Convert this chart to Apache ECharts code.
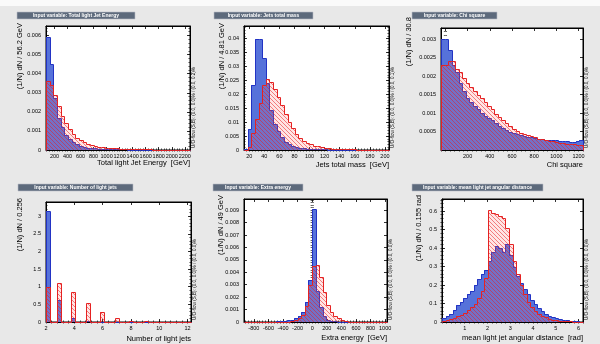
<!DOCTYPE html>
<html>
<head>
<meta charset="utf-8">
<script src="https://cdn.jsdelivr.net/npm/echarts@6/dist/echarts.min.js"></script>
<style>
  html, body { margin: 0; padding: 0; background: #e8e8e8; }
  #main { width: 600px; height: 344px; }
</style>
</head>
<body>
<div id="main"></div>
<script>
// ---- data: [first bin edge, bin width], signal / background per bin ----
const energyBins = [70, 56.2];
const energySig = [0.0059, 0.0045, 0.0027, 0.0017, 0.0012, 0.0008, 0.0006, 0.00042, 0.0003, 0.00022,
  0.00017, 0.00013, 0.0001, 0.00008, 0.00007, 0.00006, 0.00005, 0.00004, 0.00004, 0.00003,
  0.00003, 0.00003, 0.00002, 0.00002, 0.00002, 0.00002, 0.00001, 0.00001, 0.00001, 0.00001,
  0.00001, 0.00001, 0.00001, 0, 0, 0, 0, 0, 0, 0];
const energyBkg = [0.0036, 0.0034, 0.0029, 0.0023, 0.0018, 0.0014, 0.0011, 0.00085, 0.00065, 0.0005,
  0.0004, 0.00032, 0.00026, 0.00021, 0.00017, 0.00014, 0.00012, 0.0001, 0.00009, 0.00008,
  0.00007, 0.00006, 0.00005, 0.00005, 0.00004, 0.00004, 0.00003, 0.00003, 0.00003, 0.00002,
  0.00002, 0.00002, 0.00002, 0.00001, 0.00001, 0.00001, 0.00001, 0.00001, 0.00001, 0.00001];

const massBins = [13, 4.81];
const massSig = [0.0005, 0.0076, 0.0232, 0.0398, 0.0400, 0.0330, 0.0240, 0.0145, 0.0095, 0.0068,
  0.0045, 0.0030, 0.0020, 0.0015, 0.0010, 0.0008, 0.0006, 0.0005, 0.0004, 0.0003,
  0.0003, 0.0002, 0.0002, 0.0001, 0.0001, 0.0001, 0.0001, 0.0001, 0, 0,
  0, 0, 0, 0, 0, 0, 0, 0, 0, 0];
const massBkg = [0, 0.0010, 0.0060, 0.0110, 0.0170, 0.0235, 0.0254, 0.0245, 0.0220, 0.0190,
  0.0160, 0.0130, 0.0100, 0.0078, 0.0058, 0.0044, 0.0034, 0.0026, 0.0020, 0.0016,
  0.0013, 0.0010, 0.0008, 0.0006, 0.0005, 0.0004, 0.0003, 0.0003, 0.0002, 0.0002,
  0.0002, 0.0001, 0.0001, 0.0001, 0.0001, 0.0001, 0, 0, 0, 0];

const chiBins = [-40, 32];
const chiSig = [0.0030, 0.0030, 0.0027, 0.0023, 0.0021, 0.0018, 0.0016, 0.0014, 0.0013, 0.0012,
  0.0011, 0.0010, 0.00093, 0.00086, 0.0008, 0.00072, 0.00066, 0.0006, 0.00055, 0.0005,
  0.00046, 0.00043, 0.0004, 0.00038, 0.00036, 0.00034, 0.00032, 0.0003, 0.00029, 0.00028,
  0.00027, 0.00026, 0.00026, 0.00025, 0.00024, 0.00023, 0.00022, 0.00021, 0.00024, 0.00027];
const chiBkg = [0.0023, 0.0023, 0.0024, 0.0024, 0.0022, 0.0021, 0.00195, 0.0018, 0.0017, 0.0016,
  0.0015, 0.0014, 0.0013, 0.0012, 0.0011, 0.00098, 0.00088, 0.0008, 0.00072, 0.00065,
  0.00058, 0.00052, 0.00047, 0.00043, 0.0004, 0.00037, 0.00034, 0.00031, 0.00029, 0.00027,
  0.00025, 0.00023, 0.00021, 0.0002, 0.00018, 0.00017, 0.00016, 0.00015, 0.00014, 0.00013];

const njetBins = [2, 0.256];
const njetSig = [3.15, 0, 0, 0.62, 0, 0, 0, 0.12, 0, 0,
  0, 0.03, 0, 0, 0, 0.01, 0, 0, 0, 0,
  0, 0, 0, 0, 0, 0, 0, 0, 0, 0,
  0, 0, 0, 0, 0, 0, 0, 0, 0, 0];
const njetBkg = [1.0, 0, 0, 1.1, 0, 0, 0, 0.85, 0, 0,
  0, 0.55, 0, 0, 0, 0.27, 0, 0, 0, 0.11,
  0, 0, 0, 0.04, 0, 0, 0, 0.015, 0, 0,
  0, 0.005, 0, 0, 0, 0, 0, 0, 0, 0];

const extraBins = [-935, 49];
const extraSig = [0, 0, 0, 0, 0, 0, 0, 0.00002, 0.00003, 0.00005,
  0.00007, 0.0001, 0.00015, 0.0002, 0.0003, 0.0005, 0.0008, 0.0016, 0.0034, 0.0091,
  0.0025, 0.0012, 0.0005, 0.0002, 0.0001, 0.00005, 0.00003, 0, 0, 0,
  0, 0, 0, 0, 0, 0, 0, 0, 0, 0];
const extraBkg = [0, 0, 0, 0, 0, 0, 0, 0, 0, 0,
  0, 0, 0.00003, 0.00008, 0.00015, 0.0003, 0.0006, 0.0013, 0.0030, 0.0045,
  0.0046, 0.0036, 0.0024, 0.0014, 0.0008, 0.0005, 0.0003, 0.00015, 0.00008, 0.00004,
  0.00002, 0, 0, 0, 0, 0, 0, 0, 0, 0];

const angleBins = [0, 0.155];
const angleSig = [0.02, 0.03, 0.045, 0.065, 0.09, 0.11, 0.13, 0.15, 0.17, 0.2,
  0.235, 0.26, 0.28, 0.33, 0.38, 0.41, 0.40, 0.38, 0.42, 0.36,
  0.30, 0.25, 0.21, 0.18, 0.15, 0.12, 0.095, 0.075, 0.06, 0.045,
  0.035, 0.027, 0.02, 0.016, 0.012, 0.01, 0.007, 0.005, 0.003, 0.002];
const angleBkg = [0.005, 0.01, 0.015, 0.02, 0.03, 0.04, 0.05, 0.065, 0.08, 0.1,
  0.13, 0.17, 0.24, 0.605, 0.59, 0.585, 0.575, 0.56, 0.51, 0.42,
  0.33, 0.26, 0.2, 0.15, 0.11, 0.08, 0.06, 0.045, 0.033, 0.025,
  0.018, 0.013, 0.01, 0.008, 0.006, 0.004, 0.003, 0.002, 0.001, 0.001];

// axis ranges: [min, max, major step]
const xRanges = [[70, 2280, 200], [13, 205.4, 20], [-40, 1240, 200], [2, 12.24, 2], [-935, 1025, 200], [0, 6.2, 1]];
const yRanges = [[0, 0.0065, 0.001], [0, 0.0445, 0.005], [0, 0.0033, 0.0005], [0, 3.4, 0.5], [0, 0.0099, 0.001], [0, 0.665, 0.1]];

const titles = ['Input variable: Total light Jet Energy', 'Input variable: Jets total mass', 'Input variable: Chi square',
  'Input variable: Number of light jets', 'Input variable: Extra energy', 'Input variable: mean light jet angular distance'];
const xTitles = ['Total light Jet Energy  [GeV]', 'Jets total mass  [GeV]', 'Chi square',
  'Number of light jets', 'Extra energy  [GeV]', 'mean light jet angular distance  [rad]'];
const yTitles = ['(1/N) dN / 56.2 GeV', '(1/N) dN / 4.81 GeV', '(1/N) dN / 30.8',
  '(1/N) dN / 0.256', '(1/N) dN / 49 GeV', '(1/N) dN / 0.155 rad'];
const flowTexts = ['U/O-flow (S,B): (0.0, 0.0)% / (0.0, 0.2)%', 'U/O-flow (S,B): (0.0, 0.0)% / (0.0, 0.1)%',
  'U/O-flow (S,B): (0.0, 0.0)% / (0.0, 0.0)%', 'U/O-flow (S,B): (0.0, 0.0)% / (0.0, 0.0)%',
  'U/O-flow (S,B): (0.0, 0.0)% / (0.0, 0.0)%', 'U/O-flow (S,B): (0.0, 0.0)% / (0.0, 0.0)%'];

// ---- layout ----
const font = '"Liberation Sans", Arial, Helvetica, sans-serif';
const frames = [
  { left: 46, top: 26, width: 144, height: 124, box: [17, 12, 118], yt: [20, 23], xt: 163, zeroX: true, zeroY: true },
  { left: 244, top: 26, width: 145, height: 124, box: [214, 12, 99], yt: [222, 23], xt: 165, zeroX: true, zeroY: true },
  { left: 441, top: 28, width: 142, height: 122, box: [412, 12, 85], yt: [409, 17], xt: 165, zeroX: false, zeroY: false },
  { left: 46, top: 202, width: 145, height: 120, box: [18, 184, 115], yt: [20, 198], xt: 339, zeroX: true, zeroY: true },
  { left: 244, top: 199, width: 143, height: 123, box: [213, 184, 90], yt: [221, 195], xt: 338, zeroX: true, zeroY: true },
  { left: 442, top: 199, width: 141, height: 123, box: [412, 184, 131], yt: [419, 195], xt: 338, zeroX: false, zeroY: true }
];
const sigs = [energySig, massSig, chiSig, njetSig, extraSig, angleSig];
const bkgs = [energyBkg, massBkg, chiBkg, njetBkg, extraBkg, angleBkg];
const bins = [energyBins, massBins, chiBins, njetBins, extraBins, angleBins];

// tick positions: multiples of step inside [min, max]
function tickValues(min, max, step) {
  const out = [];
  const k0 = Math.ceil(min / step - 1e-9), k1 = Math.floor(max / step + 1e-9);
  for (let k = k0; k <= k1; k++) out.push(+(k * step).toFixed(8));
  return out;
}

// red "\" hatch tile
function hatchTile() {
  const n = 4;
  const c = document.createElement('canvas');
  c.width = n; c.height = n;
  const g = c.getContext('2d');
  const img = g.createImageData(n, n);
  for (let y = 0; y < n; y++) {
    for (let x = 0; x < n; x++) {
      const k = (y * n + x) * 4;
      if ((x - y + n) % n === 0) {
        img.data[k] = 235; img.data[k + 1] = 40; img.data[k + 2] = 40; img.data[k + 3] = 155;
      } else {
        img.data[k] = 255; img.data[k + 1] = 110; img.data[k + 2] = 110; img.data[k + 3] = 45;
      }
    }
  }
  g.putImageData(img, 0, 0);
  return c;
}
const hatch = { image: hatchTile(), repeat: 'repeat' };

function histRender(values, b, fill, line) {
  return function (params, api) {
    const i = params.dataIndex;
    const cs = params.coordSys;
    const x0 = b[0] + i * b[1];
    const x1 = x0 + b[1];
    const v = values[i];
    const prev = i > 0 ? values[i - 1] : 0;
    const base = api.coord([x0, 0]);
    const top = api.coord([x1, v]);
    const pPrev = api.coord([x0, prev]);
    const xl = Math.round(Math.max(base[0], cs.x));
    const xr = Math.round(Math.min(top[0], cs.x + cs.width));
    if (xr <= xl) return null;
    const yt = Math.round(top[1]), yb = Math.round(base[1]), yp = Math.round(pPrev[1]);
    const kids = [];
    if (yb > yt) {
      kids.push({ type: 'rect', shape: { x: xl, y: yt, width: xr - xl, height: yb - yt },
        style: { fill: fill } });
    }
    const pts = [[xl + 0.5, yp + 0.5], [xl + 0.5, yt + 0.5], [xr + 0.5, yt + 0.5]];
    if (i === values.length - 1 || xr < Math.round(top[0])) pts.push([xr + 0.5, yb + 0.5]);
    kids.push({ type: 'polyline', shape: { points: pts }, style: { stroke: line, lineWidth: 1, fill: null } });
    return { type: 'group', children: kids };
  };
}

const grid = [], xAxis = [], yAxis = [], series = [], graphic = [];
const lineStyle = { show: true, onZero: false, lineStyle: { color: '#000', width: 1 } };
const labelStyle = { fontSize: 5.5, fontFamily: font, color: '#000' };

function axisSet(list, i, r, pos, labels, zero, margin) {
  const majors = tickValues(r[0], r[1], r[2]);
  const minors = tickValues(r[0], r[1], r[2] / 5);
  const lbl = majors.filter(v => zero || v !== 0);
  list.push({ type: 'value', gridIndex: i, min: r[0], max: r[1], position: pos,
    axisLine: lineStyle, splitLine: { show: false },
    axisTick: { inside: true, length: 3, customValues: majors, lineStyle: { color: '#000', width: 0.8 } },
    axisLabel: labels ? Object.assign({ margin: margin, customValues: lbl, formatter: v => String(v) }, labelStyle)
      : { show: false } });
  list.push({ type: 'value', gridIndex: i, min: r[0], max: r[1], position: pos,
    axisLine: { show: false }, splitLine: { show: false },
    axisTick: { inside: true, length: 1.6, customValues: minors, lineStyle: { color: '#000', width: 0.6 } },
    axisLabel: { show: false } });
}

graphic.push({ type: 'rect', shape: { x: 0, y: 0, width: 600, height: 6 }, style: { fill: '#fafafa' }, silent: true });

frames.forEach((f, i) => {
  grid.push({ left: f.left, top: f.top, width: f.width, height: f.height, show: true,
    backgroundColor: '#fff', borderColor: '#000', borderWidth: 1 });
  const xi = xAxis.length, yi = yAxis.length;
  axisSet(xAxis, i, xRanges[i], 'bottom', true, f.zeroX, 3);
  axisSet(xAxis, i, xRanges[i], 'top', false, true, 0);
  axisSet(yAxis, i, yRanges[i], 'left', true, f.zeroY, 5);
  axisSet(yAxis, i, yRanges[i], 'right', false, true, 0);

  series.push({ type: 'custom', xAxisIndex: xi, yAxisIndex: yi, z: 2,
    renderItem: histRender(sigs[i], bins[i], '#5672da', '#2233c4'),
    encode: { x: 0, y: 1 },
    data: sigs[i].map((v, k) => [bins[i][0] + (k + 0.5) * bins[i][1], v]) });
  series.push({ type: 'custom', xAxisIndex: xi, yAxisIndex: yi, z: 3,
    renderItem: histRender(bkgs[i], bins[i], hatch, '#e52222'),
    encode: { x: 0, y: 1 },
    data: bkgs[i].map((v, k) => [bins[i][0] + (k + 0.5) * bins[i][1], v]) });

  // title box
  graphic.push({ type: 'rect', shape: { x: f.box[0], y: f.box[1], width: f.box[2], height: 7 },
    style: { fill: '#5d6a7c', stroke: '#b8bec8', lineWidth: 0.6 }, silent: true });
  graphic.push({ type: 'text', x: f.box[0] + f.box[2] / 2, y: f.box[1] + 3.7, silent: true,
    style: { text: titles[i], fill: '#fff', font: 'bold 5px ' + font, align: 'center', verticalAlign: 'middle' } });
  // axis titles
  graphic.push({ type: 'text', x: f.yt[0], y: f.yt[1], rotation: Math.PI / 2, silent: true,
    style: { text: yTitles[i], fill: '#000', font: '7.5px ' + font, align: 'right', verticalAlign: 'middle' } });
  graphic.push({ type: 'text', x: f.left + f.width, y: f.xt, silent: true,
    style: { text: xTitles[i], fill: '#000', font: '7.5px ' + font, align: 'right', verticalAlign: 'middle' } });
  // under/overflow note
  graphic.push({ type: 'text', x: f.left + f.width + 4, y: f.top + f.height - 2, rotation: Math.PI / 2, silent: true,
    style: { text: flowTexts[i], fill: '#000', font: '4.6px ' + font, align: 'left', verticalAlign: 'middle' } });
});

const chart = echarts.init(document.getElementById('main'));
chart.setOption({
  backgroundColor: '#e8e8e8',
  animation: false,
  grid: grid,
  xAxis: xAxis,
  yAxis: yAxis,
  series: series,
  graphic: graphic
});
</script>
</body>
</html>
